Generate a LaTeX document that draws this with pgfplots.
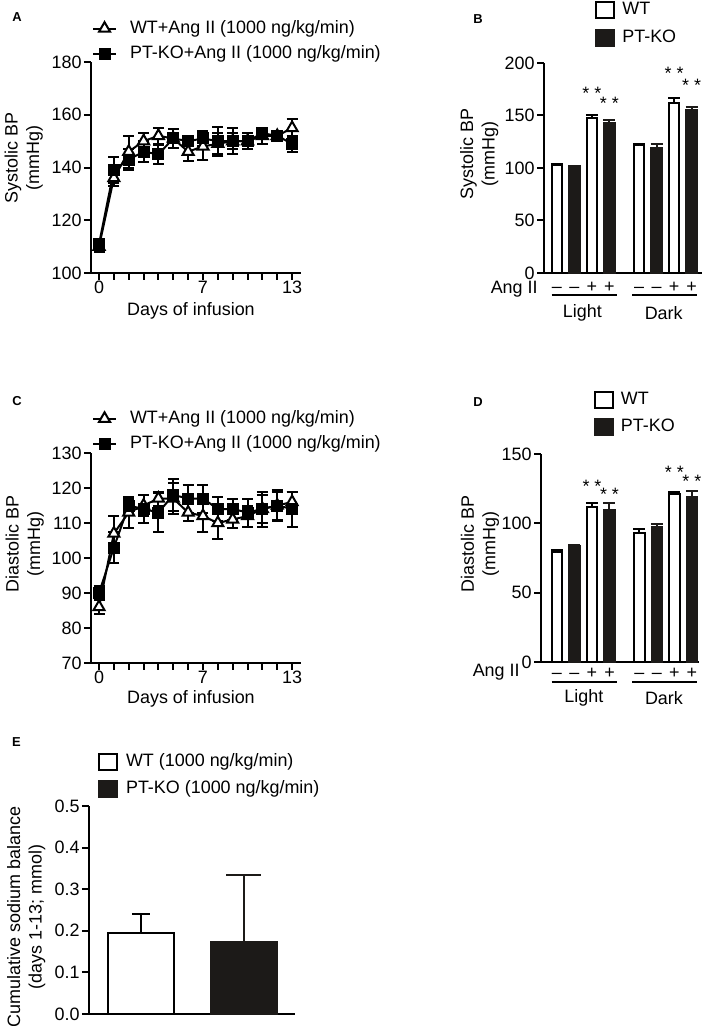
\documentclass[border=0pt]{standalone}
\usepackage{pgfplots}
\pgfplotsset{compat=1.18}
\usepackage{fontspec}
\setmainfont{Liberation Sans}
\definecolor{barblack}{RGB}{28,26,24}

\pgfplotsset{
  prism/.style={
    scale only axis,
    axis x line*=bottom,
    axis y line*=left,
    axis line style={line width=1bp,-},
    every tick/.style={line width=1bp,black},
    tick align=outside,
    major tick length=3.5bp,
    /pgf/number format/assume math mode=true,
    yticklabel style={inner xsep=1bp},
    clip=false,
    legend cell align=left,
    legend style={draw=none,fill=none,inner sep=0pt,outer sep=0pt,
      nodes={inner sep=0pt,text height=6.5bp,text depth=1.8bp}},
  },
  boxlegend/.style={legend image code/.code={\draw[##1,line width=1bp] (0bp,-4bp) rectangle (9bp,4bp);}},
  linelegend/.style={legend image code/.code={\draw[mark repeat=2,mark phase=2,##1] plot coordinates {(0bp,0bp) (5.75bp,0bp) (11.5bp,0bp)};}},
  wtline/.style={line width=1bp,black,mark=triangle*,mark size=3.2bp,mark options={fill=white,line width=1bp,solid},
     error bars/.cd,y dir=both,y explicit,error bar style={line width=1bp},error mark options={rotate=90,line width=1bp,mark size=2.75bp},/pgfplots/.cd},
  koline/.style={line width=1bp,black,mark=square*,mark size=2.5bp,mark options={fill=black,line width=1bp,solid},
     error bars/.cd,y dir=both,y explicit,error bar style={line width=1bp},error mark options={rotate=90,line width=1bp,mark size=2.75bp},/pgfplots/.cd},
  wtbar/.style={ybar,bar shift=0pt,fill=white,draw=black,line width=1bp,boxlegend,
     error bars/.cd,y dir=plus,y explicit,error bar style={line width=1bp},error mark options={rotate=90,line width=1bp,mark size=#1},/pgfplots/.cd},
  kobar/.style={ybar,bar shift=0pt,fill=barblack,draw=barblack,line width=1bp,boxlegend,
     error bars/.cd,y dir=plus,y explicit,error bar style={line width=1bp,barblack},error mark options={rotate=90,line width=1bp,mark size=#1,barblack},/pgfplots/.cd},
}

\begin{document}
\begin{tikzpicture}[font=\fontsize{9}{10.8}\selectfont]

% ---------------- Panel A ----------------
\begin{axis}[prism,
  at={(45.5bp,376.5bp)}, anchor=south west,
  width=105bp, height=105.5bp,
  xmin=-0.54, xmax=13.6, ymin=100, ymax=180,
  xtick={0,...,13}, xticklabels={0,,,,,,,7,,,,,,13},
  xticklabel style={yshift=3bp},
  ytick={100,120,140,160,180},
  xlabel={Days of infusion}, ylabel={Systolic BP\\(mmHg)},
  every axis x label/.style={at={(axis description cs:0.476,-0.178)},anchor=center},
  every axis y label/.style={at={(axis description cs:-0.32,0.545)},rotate=90,anchor=center,align=center},
  legend style={at={(axis description cs:0.005,1.198)},anchor=north west,row sep=4.2bp,column sep=6.5bp},
]
\addplot[linelegend,wtline] table[x=x,y=y,y error=e] {
x y e
0 110 2
1 136 3
2 146 6
3 150 3
4 152 3
5 151 3.5
6 146 3.5
7 148 5
8 149 4
9 150 5
10 150 3
11 152 3
12 152 2
13 155 3.5
};
\addlegendentry{WT+Ang II (1000 ng/kg/min)}
\addplot[linelegend,koline] table[x=x,y=y,y error=e] {
x y e
0 111 2
1 139 5
2 143 4
3 146 4
4 145 3.5
5 151 3.5
6 150 1.5
7 151 3
8 150 5.5
9 150 3
10 150 3
11 153 2
12 152 2
13 149 3
};
\addlegendentry{PT-KO+Ang II (1000 ng/kg/min)}
\end{axis}

% ---------------- Panel B ----------------
\begin{axis}[prism,
  at={(272bp,376.5bp)}, anchor=south west,
  width=79bp, height=105bp,
  xmin=-0.74, xmax=8.29, ymin=0, ymax=200,
  xtick={0,1,2,3,4.7,5.7,6.7,7.7},
  xticklabels={\textendash,\textendash,+,+,\textendash,\textendash,+,+},
  xticklabel style={text height=6.5bp,text depth=1.8bp,yshift=3.7bp},
  x tick style={draw=none},
  ytick={0,50,100,150,200},
  ylabel={Systolic BP\\(mmHg)},
  every axis y label/.style={at={(axis description cs:-0.41,0.567)},rotate=90,anchor=center,align=center},
  legend style={at={(axis description cs:0.325,1.297)},anchor=north west,row sep=5.2bp,column sep=3.5bp},
]
\addplot[wtbar=3bp,bar width=0.6] table[x=x,y=y,y error=e] {
x y e
0 103 0.5
2 147.5 3
4.7 121.5 1.5
6.7 162 4.5
};
\addlegendentry{WT}
\addplot[kobar=3bp,bar width=0.6] table[x=x,y=y,y error=e] {
x y e
1 101.5 0.5
3 143 3
5.7 119.5 3
7.7 155.5 3
};
\addlegendentry{PT-KO}
\node[anchor=base] at (axis cs:2,165) {* *};
\node[anchor=base] at (axis cs:3,155.5) {* *};
\node[anchor=base] at (axis cs:6.7,184) {* *};
\node[anchor=base] at (axis cs:7.7,172.5) {* *};
\node[anchor=east,inner sep=0pt] at ([xshift=-3bp,yshift=-8.2bp]axis cs:-0.74,0) {Ang II};
\draw[line width=0.75bp] ([yshift=-11bp]axis cs:-0.3,0) -- ([yshift=-11bp]axis cs:3.43,0);
\draw[line width=0.75bp] ([yshift=-11bp]axis cs:4.3,0) -- ([yshift=-11bp]axis cs:8.0,0);
\node[yshift=-20bp] at (axis cs:1.45,0) {Light};
\node[yshift=-20bp] at (axis cs:6.1,0) {Dark};
\end{axis}

% ---------------- Panel C ----------------
\begin{axis}[prism,
  at={(45.5bp,181.5bp)}, anchor=south west,
  width=105bp, height=105bp,
  xmin=-0.54, xmax=13.6, ymin=70, ymax=130,
  xtick={0,...,13}, xticklabels={0,,,,,,,7,,,,,,13},
  xticklabel style={yshift=3bp},
  ytick={70,80,...,130},
  xlabel={Days of infusion}, ylabel={Diastolic BP\\(mmHg)},
  every axis x label/.style={at={(axis description cs:0.476,-0.17)},anchor=center},
  every axis y label/.style={at={(axis description cs:-0.315,0.567)},rotate=90,anchor=center,align=center},
  legend style={at={(axis description cs:0.005,1.203)},anchor=north west,row sep=4.2bp,column sep=6.5bp},
]
\addplot[linelegend,wtline] table[x=x,y=y,y error=e] {
x y e
0 86 2
1 107 5
2 113 4.5
3 115 3
4 117 2
5 117 4.5
6 113 2.5
7 112 4.5
8 110 4.5
9 111 2.5
10 112 3
11 114 4
12 115 4
13 116 3
};
\addlegendentry{WT+Ang II (1000 ng/kg/min)}
\addplot[linelegend,koline] table[x=x,y=y,y error=e] {
x y e
0 90 2
1 103 4.5
2 115 2
3 114 4
4 113 5.5
5 118 4.5
6 117 4
7 117 4
8 114 3.5
9 114 3
10 113 4
11 114 5
12 115 4.5
13 114 5
};
\addlegendentry{PT-KO+Ang II (1000 ng/kg/min)}
\end{axis}

% ---------------- Panel D ----------------
\begin{axis}[prism,
  at={(270.5bp,182bp)}, anchor=south west,
  width=79bp, height=104bp,
  xmin=-0.91, xmax=8.11, ymin=0, ymax=150,
  xtick={0,1,2,3,4.7,5.7,6.7,7.7},
  xticklabels={\textendash,\textendash,+,+,\textendash,\textendash,+,+},
  xticklabel style={text height=6.5bp,text depth=1.8bp,yshift=5.2bp},
  x tick style={draw=none},
  ytick={0,50,100,150},
  ylabel={Diastolic BP\\(mmHg)},
  every axis y label/.style={at={(axis description cs:-0.386,0.567)},rotate=90,anchor=center,align=center},
  legend style={at={(axis description cs:0.335,1.302)},anchor=north west,row sep=4.2bp,column sep=3.5bp},
]
\addplot[wtbar=3bp,bar width=0.6] table[x=x,y=y,y error=e] {
x y e
0 79 2
2 111.5 3.5
4.7 93 3
6.7 121.5 1.2
};
\addlegendentry{WT}
\addplot[kobar=3bp,bar width=0.6] table[x=x,y=y,y error=e] {
x y e
1 83.7 0.8
3 109.6 4.8
5.7 97 2.6
7.7 118.8 4.5
};
\addlegendentry{PT-KO}
\node[anchor=base] at (axis cs:2,122.5) {* *};
\node[anchor=base] at (axis cs:3,116.5) {* *};
\node[anchor=base] at (axis cs:6.7,132) {* *};
\node[anchor=base] at (axis cs:7.7,126) {* *};
\node[anchor=east,inner sep=0pt] at ([xshift=-10.5bp,yshift=-5bp]axis cs:-0.91,0) {Ang II};
\draw[line width=0.75bp] ([yshift=-10bp]axis cs:-0.3,0) -- ([yshift=-10bp]axis cs:3.43,0);
\draw[line width=0.75bp] ([yshift=-10bp]axis cs:4.3,0) -- ([yshift=-10bp]axis cs:8.0,0);
\node[yshift=-18bp] at (axis cs:1.54,0) {Light};
\node[yshift=-18bp] at (axis cs:6.11,0) {Dark};
\end{axis}

% ---------------- Panel E ----------------
\begin{axis}[prism,
  at={(44.5bp,6bp)}, anchor=south west,
  width=103bp, height=104bp,
  xmin=-0.507, xmax=1.502, ymin=0, ymax=0.5,
  xtick=\empty,
  ytick={0,0.1,0.2,0.3,0.4,0.5},
  yticklabel style={/pgf/number format/fixed,/pgf/number format/fixed zerofill,/pgf/number format/precision=1},
  ylabel={Cumulative sodium balance\\(days 1-13; mmol)},
  every axis y label/.style={at={(axis description cs:-0.305,0.466)},rotate=90,anchor=center,align=center},
  legend style={at={(axis description cs:0.044,1.254)},anchor=north west,row sep=4.2bp,column sep=4bp},
]
\addplot[wtbar=4.5bp,bar width=0.644] table[x=x,y=y,y error=e] {
x y e
0 0.194 0.046
};
\addlegendentry{WT (1000 ng/kg/min)}
\addplot[kobar=8.75bp,bar width=0.644] table[x=x,y=y,y error=e] {
x y e
1 0.172 0.163
};
\addlegendentry{PT-KO (1000 ng/kg/min)}
\end{axis}

% panel letters
\node[font=\fontsize{6.5}{7}\selectfont\bfseries] at (8.5bp,504.25bp) {A};
\node[font=\fontsize{6.5}{7}\selectfont\bfseries] at (239bp,503.5bp) {B};
\node[font=\fontsize{6.5}{7}\selectfont\bfseries] at (8.5bp,312.25bp) {C};
\node[font=\fontsize{6.5}{7}\selectfont\bfseries] at (239bp,312bp) {D};
\node[font=\fontsize{6.5}{7}\selectfont\bfseries] at (8.25bp,141.75bp) {E};

\pgfresetboundingbox
\path[use as bounding box] (0,0) rectangle (354.5bp,513bp);
\end{tikzpicture}
\end{document}
